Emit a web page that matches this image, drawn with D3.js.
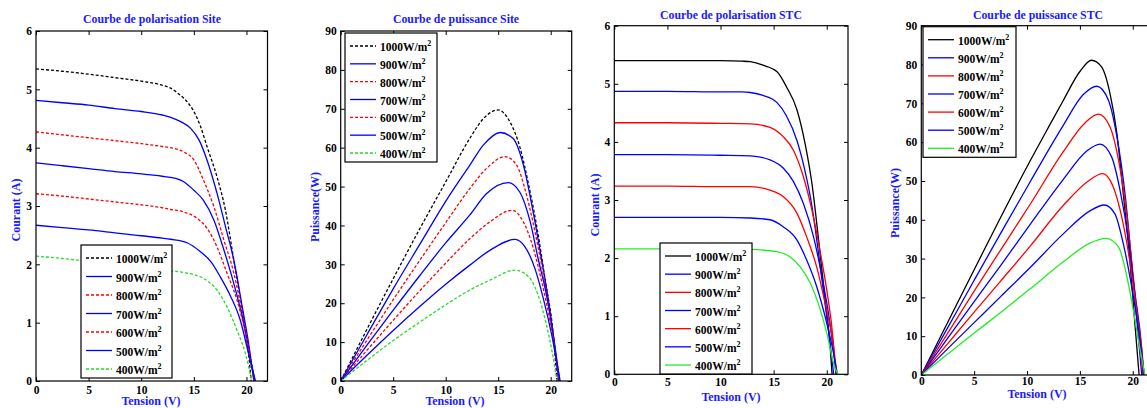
<!DOCTYPE html>
<html><head><meta charset="utf-8">
<script src="https://cdn.jsdelivr.net/npm/d3@7"></script>
<style>
html,body{margin:0;padding:0;background:#fff;}
svg{display:block;}
text{font-family:"Liberation Serif","Times New Roman",serif;font-weight:bold;}
</style></head>
<body>
<svg id="c" width="1147" height="408"></svg>
<script>
// ---------- DATA ----------
const irradianceLabels = ["1000", "900", "800", "700", "600", "500", "400"];
const xTicks = [0, 5, 10, 15, 20];
const currentTicks = [0, 1, 2, 3, 4, 5, 6];
const powerTicks = [0, 10, 20, 30, 40, 50, 60, 70, 80, 90];

// Site I-V [V, A]
const siteIV1000 = [[0,5.35],[2.5,5.31],[5,5.26],[7.5,5.20],[10,5.14],[12,5.07],[12.8,5.02],[13.5,4.93],[14.3,4.80],[15,4.62],[15.6,4.38],[16.25,4.02],[17.2,3.50],[18,2.93],[18.8,2.07],[19.6,1.22],[20.2,0.47],[20.45,0]];
const siteIV900 = [[0,4.81],[2.5,4.77],[5,4.73],[7.5,4.67],[10,4.62],[12,4.56],[12.8,4.52],[13.7,4.45],[14.7,4.33],[15.5,4.13],[16.25,3.79],[17.2,3.22],[18,2.65],[18.8,2.07],[19.6,1.27],[20.2,0.65],[20.7,0]];
const siteIV800 = [[0,4.27],[2.5,4.22],[5,4.17],[7.5,4.12],[10,4.07],[12,4.02],[12.8,4.0],[14,3.93],[15,3.79],[15.9,3.45],[16.9,2.99],[17.85,2.42],[18.8,1.85],[19.6,1.16],[20.4,0.36],[20.75,0]];
const siteIV700 = [[0,3.74],[2.5,3.69],[5,3.64],[7.5,3.59],[10,3.55],[12,3.51],[12.8,3.49],[14,3.42],[15,3.27],[15.9,3.10],[16.9,2.76],[17.85,2.25],[18.8,1.67],[19.6,1.10],[20.4,0.36],[20.8,0]];
const siteIV600 = [[0,3.21],[2.5,3.17],[5,3.12],[7.5,3.07],[10,3.02],[12,2.97],[12.8,2.94],[14,2.90],[15.3,2.79],[16.25,2.62],[17.2,2.30],[18.15,1.85],[19.1,1.39],[19.9,0.82],[20.4,0.35],[20.8,0]];
const siteIV500 = [[0,2.67],[2.5,2.63],[5,2.59],[7.5,2.54],[10,2.49],[12,2.45],[12.8,2.43],[14.35,2.37],[15.6,2.22],[16.6,2.05],[17.5,1.79],[18.5,1.45],[19.4,1.05],[20.2,0.47],[20.85,0]];
const siteIV400 = [[0,2.14],[2.5,2.10],[5,2.05],[7.5,2.00],[10,1.95],[12,1.91],[12.8,1.89],[14.35,1.85],[15.9,1.76],[17.2,1.56],[18.15,1.27],[19.1,0.87],[19.9,0.47],[20.5,0]];

// Site P-V [V, W]
const siteP1000 = [[0,0],[2.5,13.3],[5,26.3],[7.5,39],[10,51.2],[12.3,62.4],[13.6,67.5],[15,69.7],[16.1,66.7],[17.1,59.8],[17.9,50.4],[18.7,39.3],[19.5,25.5],[20.25,11.8],[20.6,0]];
const siteP900 = [[0,0],[2.5,11.9],[5,23.7],[7.5,35],[10,46.2],[12.3,55.5],[13.6,60.7],[15.2,63.9],[16.4,62.4],[17.4,55.5],[18.2,45.3],[19,33.3],[19.8,20.4],[20.4,8.4],[20.75,0]];
const siteP800 = [[0,0],[2.5,10.5],[5,20.9],[7.5,30.9],[10,40.7],[12.3,49.5],[13.9,54.7],[15.65,57.7],[16.75,55.5],[17.7,47.8],[18.5,38.4],[19.3,27.3],[20.1,14.4],[20.8,0]];
const siteP700 = [[0,0],[2.5,9.2],[5,18.2],[7.5,27],[10,35.5],[12.3,42.7],[13.9,48.2],[15.95,51],[17.05,48.6],[18.05,40.9],[18.8,31.5],[19.6,22.1],[20.25,11.8],[20.85,0]];
const siteP600 = [[0,0],[2.5,7.9],[5,15.6],[7.5,23.1],[10,30.3],[12.3,36.6],[14.2,40.9],[16.3,43.9],[17.4,40.9],[18.35,34.1],[19.15,25.5],[19.95,15.2],[20.85,0]];
const siteP500 = [[0,0],[2.5,6.6],[5,13],[7.5,19.1],[10,24.9],[12.3,29.8],[14.2,33.6],[16.6,36.4],[17.55,34.5],[18.5,28.9],[19.3,21.2],[20.1,11.8],[20.9,0]];
const siteP400 = [[0,0],[2.5,5.3],[5,10.4],[7.5,15.1],[10,19.6],[12.3,23.4],[14.2,25.9],[16.6,28.5],[17.9,26.8],[18.8,22.1],[19.6,14.4],[20.25,5.8],[20.6,0]];

// STC I-V [V, A]
const stcIV1000 = [[0,5.40],[5,5.40],[10,5.40],[12,5.39],[12.8,5.38],[14,5.32],[15.3,5.21],[16.2,4.95],[17.2,4.55],[17.95,3.98],[18.6,3.29],[19.2,2.37],[19.85,1.28],[20.3,0.53],[20.5,0]];
const stcIV900 = [[0,4.87],[5,4.87],[10,4.86],[12,4.86],[12.8,4.85],[14,4.80],[15.3,4.68],[16.2,4.45],[17.2,4.02],[17.95,3.5],[18.6,2.9],[19.2,2.12],[19.85,1.2],[20.4,0.4],[20.65,0]];
const stcIV800 = [[0,4.33],[5,4.33],[10,4.32],[12.8,4.31],[14.65,4.25],[15.9,4.09],[16.85,3.86],[17.8,3.40],[18.6,2.83],[19.35,2.14],[20,1.45],[20.6,0.6],[20.85,0]];
const stcIV700 = [[0,3.78],[5,3.78],[10,3.77],[12.8,3.76],[14.65,3.69],[15.9,3.55],[16.85,3.32],[17.8,2.94],[18.75,2.37],[19.55,1.68],[20.3,0.88],[20.9,0]];
const stcIV600 = [[0,3.24],[5,3.24],[10,3.23],[12.8,3.23],[14.65,3.17],[15.9,3.06],[17.2,2.77],[18.1,2.37],[19.05,1.85],[19.85,1.22],[20.6,0.53],[20.95,0]];
const stcIV500 = [[0,2.70],[5,2.70],[10,2.70],[12.8,2.69],[14.65,2.66],[15.9,2.54],[17.2,2.31],[18.1,1.97],[19.05,1.51],[20,0.88],[20.6,0.4],[21.0,0]];
const stcIV400 = [[0,2.16],[5,2.16],[10,2.16],[12.8,2.15],[15.3,2.11],[16.55,2.02],[17.5,1.85],[18.45,1.57],[19.2,1.22],[20,0.71],[20.75,0.12],[21.05,0]];

// STC P-V [V, W]
const stcP1000 = [[0,0],[2.5,13.6],[5,27.1],[7.5,40.6],[10.3,55.2],[11.9,63.2],[13.4,70.6],[15,78.2],[16.1,81.1],[17.05,79.4],[17.85,72.5],[18.5,62.2],[19.1,46.8],[19.75,28.8],[20.2,13.3],[20.6,0]];
const stcP900 = [[0,0],[2.5,12.2],[5,24.4],[7.5,36.5],[10.3,49.8],[13.4,64.2],[15.3,72.2],[16.6,74.4],[17.7,70.8],[18.5,61.4],[19.3,45.9],[19.9,28.8],[20.5,10.7],[20.85,0]];
const stcP800 = [[0,0],[2.5,10.8],[5,21.6],[7.5,32.2],[10.3,44.0],[13.4,57.4],[15.5,65.0],[16.75,67.2],[17.85,63.9],[18.65,55.4],[19.45,40.8],[20.05,25.3],[20.7,8.2],[20.95,0]];
const stcP700 = [[0,0],[2.5,9.5],[5,18.9],[7.5,28.2],[10.3,38.8],[13.4,50.3],[15.65,57.7],[16.9,59.5],[18,56.2],[18.8,47.6],[19.6,34.8],[20.2,21.0],[20.85,6.4],[21.0,0]];
const stcP600 = [[0,0],[2.5,8.1],[5,16.2],[7.5,24.2],[10.3,33.2],[13.4,43.6],[15.8,50.0],[17.15,51.9],[18.15,48.5],[18.95,40.8],[19.75,28.8],[20.4,15.9],[20.95,3.9],[21.05,0]];
const stcP500 = [[0,0],[2.5,6.8],[5,13.5],[7.5,20.2],[10.3,27.7],[13.4,36.3],[15.95,42.3],[17.3,43.8],[18.3,41.6],[19.1,33.9],[19.9,22.7],[20.55,11.6],[21.1,0]];
const stcP400 = [[0,0],[2.5,5.4],[5,10.8],[7.5,16.1],[10.3,22.2],[13.4,29.1],[15.95,34.0],[17.45,35.2],[18.65,33.0],[19.45,25.3],[20.05,16.7],[20.7,6.4],[21.15,0]];

// ---------- STYLE / LAYOUT ----------
const BLUE = "#0000ff", RED = "#ff0000", BLACK = "#000000";
const TITLE_BLUE = "#1a1aff";
const siteStyles = [
  {c: BLACK, d: "3,2"}, {c: BLUE, d: null}, {c: RED, d: "3,2"}, {c: BLUE, d: null},
  {c: RED, d: "3,2"}, {c: BLUE, d: null}, {c: "#22dd22", d: "3,2"}
];
const stcStyles = [
  {c: BLACK, d: null}, {c: BLUE, d: null}, {c: RED, d: null}, {c: BLUE, d: null},
  {c: RED, d: null}, {c: BLUE, d: null}, {c: "#22ee22", d: null}
];

const panels = [
  {title: "Courbe de polarisation Site", ylabel: "Courant (A)", series: [siteIV1000, siteIV900, siteIV800, siteIV700, siteIV600, siteIV500, siteIV400],
   styles: siteStyles, yTicks: currentTicks, ymax: 6,
   x0: 36, x1: 267.5, y0: 31, y1: 381, titleX: 152, titleY: 23, xlabX: 151, xlabY: 405, ylabX: 20, ylabY: 210, tickPad: 5,
   leg: {x: 81, y: 245, w: 91, h: 133}},
  {title: "Courbe de puissance Site", ylabel: "Puissance(W)", series: [siteP1000, siteP900, siteP800, siteP700, siteP600, siteP500, siteP400],
   styles: siteStyles, yTicks: powerTicks, ymax: 90,
   x0: 340.7, x1: 571.7, y0: 31, y1: 381, titleX: 456, titleY: 23, xlabX: 455, xlabY: 405, ylabX: 319, ylabY: 207, tickPad: 5,
   leg: {x: 345, y: 33, w: 92, h: 129}},
  {title: "Courbe de polarisation STC", ylabel: "Courant (A)", series: [stcIV1000, stcIV900, stcIV800, stcIV700, stcIV600, stcIV500, stcIV400],
   styles: stcStyles, yTicks: currentTicks, ymax: 6,
   x0: 614.3, x1: 848, y0: 25.7, y1: 374.3, titleX: 731, titleY: 19, xlabX: 731, xlabY: 401, ylabX: 599, ylabY: 205, tickPad: 4,
   leg: {x: 660, y: 243, w: 92, h: 131}},
  {title: "Courbe de puissance STC", ylabel: "Puissance(W)", series: [stcP1000, stcP900, stcP800, stcP700, stcP600, stcP500, stcP400],
   styles: stcStyles, yTicks: powerTicks, ymax: 90,
   x0: 921.3, x1: 1153.9, y0: 25.7, y1: 375, titleX: 1038, titleY: 19, xlabX: 1037, xlabY: 398, ylabX: 899, ylabY: 203, tickPad: 2,
   leg: {x: 923, y: 26.7, w: 93, h: 130.6}}
];

const svg = d3.select("#c");

panels.forEach((p, pi) => {
  const x = d3.scaleLinear().domain([0, 22]).range([p.x0, p.x1]);
  const y = d3.scaleLinear().domain([0, p.ymax]).range([p.y1, p.y0]);
  const g = svg.append("g");

  const clipId = "clip" + pi;
  g.append("clipPath").attr("id", clipId).append("rect")
    .attr("x", p.x0).attr("y", p.y0).attr("width", p.x1 - p.x0).attr("height", p.y1 - p.y0);

  // curves
  const line = d3.line().x(d => x(d[0])).y(d => y(d[1])).curve(d3.curveMonotoneX);
  const cg = g.append("g").attr("clip-path", `url(#${clipId})`);
  p.series.forEach((s, i) => {
    cg.append("path").datum(s).attr("d", line)
      .attr("fill", "none").attr("stroke", p.styles[i].c).attr("stroke-width", 1.3)
      .attr("stroke-dasharray", p.styles[i].d);
  });

  // axes
  const fontAxis = sel => sel.selectAll("text").attr("font-size", 11.5).attr("font-family", "Liberation Serif").attr("font-weight", "bold").attr("fill", "#000");
  const bottom = g.append("g").attr("transform", `translate(0,${p.y1})`)
    .call(d3.axisBottom(x).tickValues(xTicks).tickSize(-4).tickPadding(p.tickPad).tickFormat(d3.format("d")));
  const left = g.append("g").attr("transform", `translate(${p.x0},0)`)
    .call(d3.axisLeft(y).tickValues(p.yTicks).tickSize(-4).tickPadding(4).tickFormat(d3.format("d")));
  const top = g.append("g").attr("transform", `translate(0,${p.y0})`)
    .call(d3.axisTop(x).tickValues(xTicks).tickSize(-4).tickFormat(""));
  const right = g.append("g").attr("transform", `translate(${p.x1},0)`)
    .call(d3.axisRight(y).tickValues(p.yTicks).tickSize(-4).tickFormat(""));
  [bottom, left, top, right].forEach(a => {
    a.select(".domain").remove();
    a.selectAll("line").attr("stroke", "#000").attr("stroke-width", 1);
    fontAxis(a);
  });

  // frame
  g.append("rect").attr("x", p.x0).attr("y", p.y0).attr("width", p.x1 - p.x0).attr("height", p.y1 - p.y0)
    .attr("fill", "none").attr("stroke", "#000").attr("stroke-width", 1.2);

  // title
  g.append("text").attr("x", p.titleX).attr("y", p.titleY).attr("text-anchor", "middle")
    .attr("font-size", 11.8).attr("fill", TITLE_BLUE).text(p.title);
  // x label
  g.append("text").attr("x", p.xlabX).attr("y", p.xlabY).attr("text-anchor", "middle")
    .attr("font-size", 12).attr("fill", TITLE_BLUE).text("Tension (V)");
  // y label
  g.append("text").attr("transform", `translate(${p.ylabX},${p.ylabY}) rotate(-90)`).attr("text-anchor", "middle")
    .attr("font-size", 12).attr("fill", TITLE_BLUE).text(p.ylabel);

  // legend
  const L = p.leg;
  const lg = g.append("g");
  lg.append("rect").attr("x", L.x).attr("y", L.y).attr("width", L.w).attr("height", L.h)
    .attr("fill", "#fff").attr("stroke", "#000").attr("stroke-width", 1.2);
  const rowGap = (L.h - 22) / 6;
  irradianceLabels.forEach((lab, i) => {
    const cy = L.y + 13 + i * rowGap;
    lg.append("line").attr("x1", L.x + 5).attr("x2", L.x + 31).attr("y1", cy).attr("y2", cy)
      .attr("stroke", p.styles[i].c).attr("stroke-width", 1.3).attr("stroke-dasharray", p.styles[i].d);
    const t = lg.append("text").attr("x", L.x + 35).attr("y", cy + 5).attr("font-size", 11.5).attr("fill", "#000");
    t.append("tspan").text(lab + "W/m");
    t.append("tspan").attr("dy", -5).attr("font-size", 8).text("2");
  });
});
</script>
</body></html>
